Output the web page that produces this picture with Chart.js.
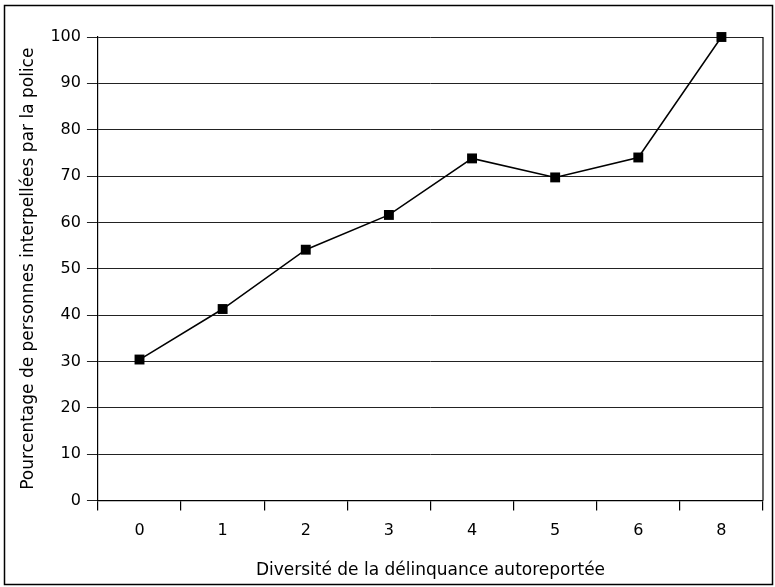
<!DOCTYPE html>
<html>
<head>
<meta charset="utf-8">
<script src="https://cdn.jsdelivr.net/npm/chart.js@4.4.1/dist/chart.umd.min.js"></script>
<style>
  html, body { margin: 0; padding: 0; background: #fff; }
  #wrap { width: 775px; height: 587px; }
</style>
</head>
<body>
<div id="wrap"><canvas id="chart" width="775" height="587"></canvas></div>
<script>
const categories = ['0', '1', '2', '3', '4', '5', '6', '8'];
const values = [30.4, 41.3, 54.1, 61.6, 73.8, 69.7, 74, 100];
const xTitle = 'Diversité de la délinquance autoreportée';
const yTitle = 'Pourcentage de personnes interpellées par la police';

// cadre extérieur + bord droit de la zone de tracé
const frame = {
    id: 'frame',
    afterDraw(chart) {
        const { ctx, chartArea: a } = chart;
        ctx.save();
        ctx.strokeStyle = '#000';
        ctx.lineWidth = 1.5;
        ctx.strokeRect(4.5, 5.5, 768, 579);
        ctx.lineWidth = 1.2;
        ctx.beginPath();
        ctx.moveTo(a.right, a.top);
        ctx.lineTo(a.right, a.bottom);
        ctx.stroke();
        ctx.restore();
    }
};

Chart.defaults.font.family = '"DejaVu Sans", sans-serif';
Chart.defaults.color = '#000';

new Chart(document.getElementById('chart'), {
    type: 'line',
    data: {
        labels: categories,
        datasets: [{
            data: values,
            borderColor: '#000',
            borderWidth: 1.5,
            backgroundColor: '#000',
            pointStyle: 'rect',
            pointRadius: 7,
            pointBorderWidth: 0,
            tension: 0,
            clip: false
        }]
    },
    options: {
        responsive: false,
        animation: false,
        layout: { padding: { top: 37, right: 12, bottom: 6, left: 18 } },
        plugins: { legend: { display: false }, tooltip: { enabled: false } },
        scales: {
            x: {
                type: 'category',
                offset: true,
                grid: { offset: true, drawOnChartArea: false, tickLength: 10, color: '#000', lineWidth: 1.2 },
                border: { color: '#000', width: 1.2 },
                ticks: { font: { size: 16 }, padding: 11 },
                title: { display: true, text: xTitle, font: { size: 17 }, padding: { top: 9, bottom: 0 } }
            },
            y: {
                min: 0,
                max: 100,
                ticks: { stepSize: 10, font: { size: 16 }, padding: 6 },
                grid: { color: '#222', lineWidth: 1, tickLength: 11 },
                border: { color: '#000', width: 1.2 },
                title: { display: true, text: yTitle, font: { size: 17 }, padding: { top: 0, bottom: 6 } }
            }
        }
    },
    plugins: [frame]
});
</script>
</body>
</html>
